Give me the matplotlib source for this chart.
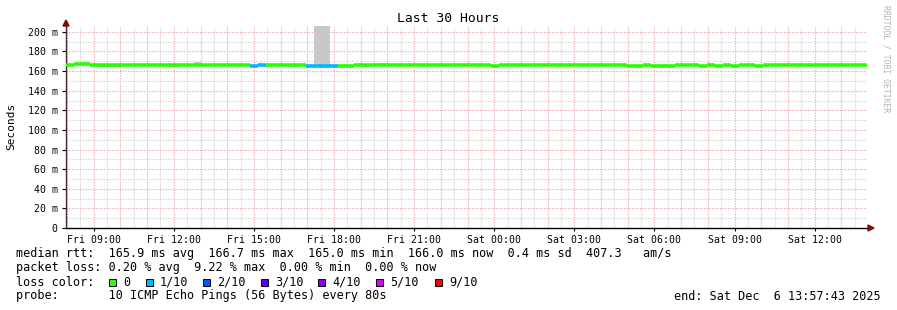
import matplotlib
matplotlib.use("Agg")
import matplotlib.pyplot as plt
from matplotlib.patches import Rectangle, Polygon
import numpy as np

W, H = 897, 310
MONO = "DejaVu Sans Mono"

# ---- data -------------------------------------------------------------
title = "Last 30 Hours"
ylabel = "Seconds"
t_start = 7 + 57/60 + 43/3600      # hours since Fri 00:00
t_end = t_start + 30
bin_hours = 0.3

median = [
    166.5, 167, 167, 166, 166, 166, 166, 166, 166.5, 166,
    166, 166, 166, 166.5, 166.5, 166.5, 166, 166, 166.5, 166,
    166, 166, 166, 165.5, 166, 166, 166, 166.5, 166.5, 166,
    165.5, 165.3, 165.3, 165.5, 165.2, 165.5, 166, 165.8, 166.3, 166,
    166.5, 166.5, 166, 166.5, 166.5, 166.5, 166, 166, 166.5, 166.5,
    166.5, 166, 165.8, 165.7, 166, 166.3, 166, 166, 165.8, 166,
    165.8, 165.8, 166, 165.8, 165.8, 166, 166.3, 166, 165.8, 166,
    165.7, 165.7, 165.8, 165.7, 165.7, 165.7, 166, 165.8, 165.8, 165.7,
    165.8, 165.7, 165.8, 165.7, 165.8, 165.8, 165.7, 165.8, 165.8, 165.8,
    165.8, 166, 166.3, 166, 166.3, 166, 166.5, 166.3, 166, 166,
]
smoke_hi = [
    167.5, 168.5, 168.5, 166.8, 166.8, 166.8, 166.8, 166.8, 167.3, 166.8,
    166.8, 166.8, 166.8, 167.3, 167.3, 167.3, 169.5, 166.8, 167.3, 166.8,
    166.8, 166.8, 166.8, 166.5, 167.0, 166.8, 166.8, 167.3, 167.5, 167.5,
    166.3, 210, 210, 166.3, 166.2, 166.3, 166.8, 166.6, 167.1, 167.8,
    167.3, 167.3, 166.8, 167.3, 167.3, 167.3, 166.8, 166.8, 167.3, 167.3,
    167.3, 166.8, 166.6, 166.5, 166.8, 167.1, 166.8, 166.8, 166.6, 166.8,
    166.6, 166.6, 166.8, 166.6, 166.6, 166.8, 167.1, 166.8, 166.6, 166.8,
    166.5, 166.5, 166.6, 166.5, 166.5, 166.5, 166.8, 166.6, 166.6, 166.5,
    166.6, 166.5, 166.6, 166.5, 166.6, 166.6, 166.5, 166.6, 166.6, 166.6,
    166.6, 166.8, 167.1, 166.8, 167.1, 166.8, 167.3, 167.1, 166.8, 166.8,
]
smoke_lo = [
    165.0, 166.2, 166.2, 164.3, 164.3, 164.3, 164.3, 165.2, 165.7, 165.2,
    165.2, 165.2, 165.2, 164.5, 165.7, 165.7, 165.2, 165.2, 165.7, 165.2,
    165.2, 165.2, 165.2, 164.7, 164.5, 165.2, 165.2, 165.7, 164.5, 165.2,
    164.7, 164.5, 164.5, 164.7, 164.4, 164.3, 165.2, 164.5, 165.5, 165.2,
    165.7, 165.7, 165.2, 165.7, 165.7, 165.7, 165.2, 165.2, 165.7, 165.7,
    165.7, 165.2, 165.0, 164.9, 165.2, 165.5, 165.2, 165.2, 165.0, 165.2,
    165.0, 165.0, 165.2, 165.0, 165.0, 165.2, 165.5, 165.2, 165.0, 165.2,
    164.9, 164.9, 165.0, 164.9, 164.9, 164.9, 165.2, 165.0, 165.0, 164.9,
    165.0, 164.9, 165.0, 164.9, 165.0, 165.0, 164.9, 165.0, 165.0, 165.0,
    165.0, 165.2, 165.5, 165.2, 165.5, 165.2, 165.7, 165.5, 165.2, 165.2,
]
loss = [0]*100
for i in (23, 24, 30, 31, 32, 33):
    loss[i] = 1

loss_labels = ["0", "1/10", "2/10", "3/10", "4/10", "5/10", "9/10"]
loss_colors = ["#26ff00", "#00b8ff", "#0059ff", "#5e00ff", "#7e00ff", "#dd00ff", "#ff0000"]

y_ticks = [0, 20, 40, 60, 80, 100, 120, 140, 160, 180, 200]
y_ticklabels = ["0", "20 m", "40 m", "60 m", "80 m", "100 m", "120 m", "140 m",
                "160 m", "180 m", "200 m"]
x_ticks = [9, 12, 15, 18, 21, 24, 27, 30, 33, 36]
x_ticklabels = ["Fri 09:00", "Fri 12:00", "Fri 15:00", "Fri 18:00", "Fri 21:00",
                "Sat 00:00", "Sat 03:00", "Sat 06:00", "Sat 09:00", "Sat 12:00"]

legend_lines = [
    "median rtt:  165.9 ms avg  166.7 ms max  165.0 ms min  166.0 ms now  0.4 ms sd  407.3   am/s",
    "packet loss: 0.20 % avg  9.22 % max  0.00 % min  0.00 % now",
]
probe_line = "probe:       10 ICMP Echo Pings (56 Bytes) every 80s"
end_line = "end: Sat Dec  6 13:57:43 2025"

# ---- figure -----------------------------------------------------------
fig = plt.figure(figsize=(W/100, H/100), dpi=100)
fig.patch.set_facecolor("white")

def fx(px):
    return px / W

def fy(py):
    return 1 - py / H

L, R, T, B = 66, 867, 26, 228
ax = fig.add_axes([fx(L), fy(B), (R-L)/W, (B-T)/H])
ax.set_facecolor("white")
ymax = 206
ax.set_xlim(t_start, t_end)
ax.set_ylim(0, ymax)

# grid
grid_kw = dict(linewidth=0.8, linestyle=(0, (1, 1.4)), zorder=0)
maj_c, min_c = "#eb9a9a", "#cccccc"
for h in np.arange(np.ceil(t_start*2)/2, t_end, 0.5):
    major = abs(h - round(h)) < 1e-6
    ax.axvline(h, color=maj_c if major else min_c, **grid_kw)
for v in range(10, 206, 10):
    ax.axhline(v, color=maj_c if v % 20 == 0 else min_c, **grid_kw)

# smoke
n = len(median)
t0 = [t_start + i*bin_hours for i in range(n)]
ax.bar(t0, [hi - lo for hi, lo in zip(smoke_hi, smoke_lo)], bottom=smoke_lo,
       width=bin_hours, align="edge", color="#c8c8c8", linewidth=0, zorder=2)
# median line colored by loss
ax.hlines(median, t0, [t + bin_hours for t in t0],
          colors=[loss_colors[k] for k in loss], linewidth=2.6, zorder=3)

# axes style
for s in ("top", "right"):
    ax.spines[s].set_visible(False)
ax.spines["left"].set_color("#4a2a2a")
ax.spines["bottom"].set_color("#000000")
ax.spines["left"].set_linewidth(1.0)
ax.spines["bottom"].set_linewidth(1.0)

ax.set_yticks(y_ticks)
ax.set_yticklabels(y_ticklabels, fontfamily=MONO, fontsize=7.1)
ax.set_xticks(x_ticks)
ax.set_xticklabels(x_ticklabels, fontfamily=MONO, fontsize=7.1)
ax.tick_params(axis="y", length=3, width=0.8, pad=3, colors="#000000")
ax.tick_params(axis="x", length=2, width=0.8, pad=3, colors="#000000")

fig.text(fx(448), fy(19), title, ha="center", va="center",
         fontfamily=MONO, fontsize=9.4)
fig.text(fx(11), fy(126), ylabel, rotation=90, ha="center", va="center",
         fontfamily=MONO, fontsize=8)

# arrows
fig.add_artist(Polygon([[fx(63), fy(26)], [fx(69), fy(26)], [fx(66), fy(20)]],
                       closed=True, transform=fig.transFigure, color="#7a1010"))
fig.add_artist(Polygon([[fx(868), fy(225)], [fx(868), fy(231)], [fx(874), fy(228)]],
                       closed=True, transform=fig.transFigure, color="#7a1010"))

# watermark
fig.text(fx(886), fy(5), "RRDTOOL / TOBI OETIKER", rotation=-90, ha="center",
         va="top", fontfamily=MONO, fontsize=5.8, color="#b4b4b4")

# legend text
fs = 8.5
ys = [254, 268, 282, 296]
for y, line in zip(ys[:2], legend_lines):
    fig.text(fx(16), fy(y), line, ha="left", va="center", fontfamily=MONO, fontsize=fs)
fig.text(fx(16), fy(ys[2]), "loss color:", ha="left", va="center", fontfamily=MONO, fontsize=fs)
sq_x = [109, 146, 203, 261, 318, 376, 435]
for x, c, lab in zip(sq_x, loss_colors, loss_labels):
    fig.add_artist(Rectangle((fx(x), fy(ys[2] + 3.5)), 7/W, 7/H, transform=fig.transFigure,
                             facecolor=c, edgecolor="black", linewidth=0.7))
    fig.text(fx(x + 14), fy(ys[2]), lab, ha="left", va="center", fontfamily=MONO, fontsize=fs)
fig.text(fx(16), fy(ys[3]), probe_line, ha="left", va="center", fontfamily=MONO, fontsize=fs)
fig.text(fx(881), fy(ys[3]), end_line, ha="right", va="center", fontfamily=MONO, fontsize=fs)

fig.savefig("out.png", dpi=100, facecolor="white")
